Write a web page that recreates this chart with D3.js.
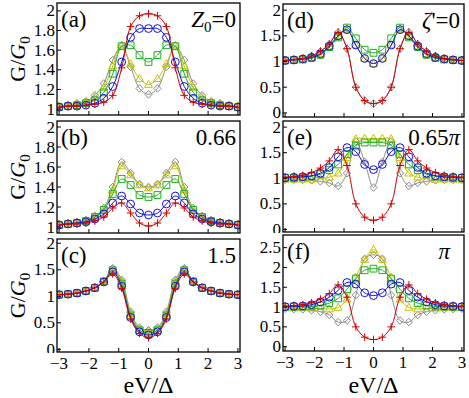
<!DOCTYPE html>
<html>
<head>
<meta charset="utf-8">
<script src="https://cdn.jsdelivr.net/npm/d3@7"></script>
<style>
  body { margin: 0; background: #fff; }
</style>
</head>
<body>
<div id="chart"></div>
<script>
// energy grid of the markers
const xs = [-3, -2.7, -2.4, -2.1, -1.8, -1.5, -1.2, -0.9, -0.6, -0.3, 0, 0.3, 0.6, 0.9, 1.2, 1.5, 1.8, 2.1, 2.4, 2.7, 3];

// (a) Z0 = 0
const a_red    = [1.02, 1.03, 1.03, 1.04, 1.05, 1.07, 1.14, 1.42, 1.84, 1.95, 1.97, 1.95, 1.84, 1.42, 1.14, 1.07, 1.05, 1.04, 1.03, 1.03, 1.02];
const a_blue   = [1.02, 1.03, 1.03, 1.04, 1.06, 1.11, 1.23, 1.48, 1.73, 1.82, 1.82, 1.82, 1.73, 1.48, 1.23, 1.11, 1.06, 1.04, 1.03, 1.03, 1.02];
const a_green  = [1.02, 1.03, 1.04, 1.06, 1.09, 1.17, 1.36, 1.64, 1.65, 1.55, 1.48, 1.55, 1.65, 1.64, 1.36, 1.17, 1.09, 1.06, 1.04, 1.03, 1.02];
const a_yellow = [1.03, 1.04, 1.05, 1.07, 1.12, 1.22, 1.44, 1.65, 1.46, 1.31, 1.25, 1.31, 1.46, 1.65, 1.44, 1.22, 1.12, 1.07, 1.05, 1.04, 1.03];
const a_gray   = [1.03, 1.04, 1.06, 1.08, 1.14, 1.26, 1.50, 1.64, 1.43, 1.21, 1.15, 1.21, 1.43, 1.64, 1.50, 1.26, 1.14, 1.08, 1.06, 1.04, 1.03];

// (b) Z0 = 0.66
const b_red    = [1.02, 1.03, 1.03, 1.04, 1.06, 1.10, 1.19, 1.24, 1.14, 1.04, 1.01, 1.04, 1.14, 1.24, 1.19, 1.10, 1.06, 1.04, 1.03, 1.03, 1.02];
const b_blue   = [1.02, 1.03, 1.04, 1.05, 1.08, 1.13, 1.24, 1.31, 1.23, 1.14, 1.12, 1.14, 1.23, 1.31, 1.24, 1.13, 1.08, 1.05, 1.04, 1.03, 1.02];
const b_green  = [1.02, 1.03, 1.04, 1.06, 1.10, 1.17, 1.33, 1.48, 1.42, 1.32, 1.30, 1.32, 1.42, 1.48, 1.33, 1.17, 1.10, 1.06, 1.04, 1.03, 1.02];
const b_yellow = [1.02, 1.03, 1.04, 1.06, 1.10, 1.17, 1.37, 1.61, 1.52, 1.42, 1.39, 1.42, 1.52, 1.61, 1.37, 1.17, 1.10, 1.06, 1.04, 1.03, 1.02];
const b_gray   = [1.03, 1.04, 1.05, 1.07, 1.11, 1.19, 1.40, 1.65, 1.54, 1.43, 1.40, 1.43, 1.54, 1.65, 1.40, 1.19, 1.11, 1.07, 1.05, 1.04, 1.03];

// (c) Z0 = 1.5
const c_red    = [1.03, 1.04, 1.06, 1.10, 1.16, 1.27, 1.42, 1.15, 0.57, 0.30, 0.22, 0.30, 0.57, 1.15, 1.42, 1.27, 1.16, 1.10, 1.06, 1.04, 1.03];
const c_blue   = [1.03, 1.04, 1.06, 1.10, 1.16, 1.27, 1.46, 1.19, 0.60, 0.33, 0.27, 0.33, 0.60, 1.19, 1.46, 1.27, 1.16, 1.10, 1.06, 1.04, 1.03];
const c_green  = [1.03, 1.04, 1.06, 1.10, 1.16, 1.28, 1.49, 1.24, 0.64, 0.36, 0.31, 0.36, 0.64, 1.24, 1.49, 1.28, 1.16, 1.10, 1.06, 1.04, 1.03];
const c_yellow = [1.03, 1.04, 1.06, 1.10, 1.16, 1.28, 1.51, 1.28, 0.68, 0.39, 0.34, 0.39, 0.68, 1.28, 1.51, 1.28, 1.16, 1.10, 1.06, 1.04, 1.03];
const c_gray   = [1.03, 1.04, 1.06, 1.10, 1.16, 1.28, 1.53, 1.31, 0.71, 0.41, 0.36, 0.41, 0.71, 1.31, 1.53, 1.28, 1.16, 1.10, 1.06, 1.04, 1.03];

// (d) zeta' = 0
const d_red    = [1.02, 1.04, 1.06, 1.11, 1.20, 1.34, 1.57, 1.25, 0.50, 0.24, 0.18, 0.24, 0.50, 1.25, 1.57, 1.34, 1.20, 1.11, 1.06, 1.04, 1.02];
const d_blue   = [1.02, 1.03, 1.05, 1.08, 1.15, 1.30, 1.50, 1.62, 1.32, 1.06, 0.96, 1.06, 1.32, 1.62, 1.50, 1.30, 1.15, 1.08, 1.05, 1.03, 1.02];
const d_green  = [1.02, 1.03, 1.04, 1.07, 1.13, 1.28, 1.47, 1.66, 1.45, 1.23, 1.17, 1.23, 1.45, 1.66, 1.47, 1.28, 1.13, 1.07, 1.04, 1.03, 1.02];
const d_yellow = [1.02, 1.03, 1.05, 1.08, 1.15, 1.30, 1.50, 1.62, 1.32, 1.06, 0.96, 1.06, 1.32, 1.62, 1.50, 1.30, 1.15, 1.08, 1.05, 1.03, 1.02];
const d_gray   = [1.02, 1.04, 1.06, 1.11, 1.20, 1.34, 1.57, 1.25, 0.50, 0.24, 0.18, 0.24, 0.50, 1.25, 1.57, 1.34, 1.20, 1.11, 1.06, 1.04, 1.02];

// (e) zeta' = 0.65 pi
const e_red    = [1.02, 1.04, 1.06, 1.11, 1.20, 1.34, 1.56, 1.25, 0.50, 0.24, 0.18, 0.24, 0.50, 1.25, 1.56, 1.34, 1.20, 1.11, 1.06, 1.04, 1.02];
const e_blue   = [1.01, 1.02, 1.03, 1.05, 1.10, 1.21, 1.42, 1.60, 1.52, 1.27, 1.17, 1.27, 1.52, 1.60, 1.42, 1.21, 1.10, 1.05, 1.03, 1.02, 1.01];
const e_green  = [1.01, 1.01, 1.02, 1.04, 1.08, 1.16, 1.27, 1.47, 1.64, 1.70, 1.70, 1.70, 1.64, 1.47, 1.27, 1.16, 1.08, 1.04, 1.02, 1.01, 1.01];
const e_yellow = [0.98, 0.98, 0.98, 0.98, 0.99, 1.02, 1.10, 1.40, 1.77, 1.78, 1.78, 1.78, 1.77, 1.40, 1.10, 1.02, 0.99, 0.98, 0.98, 0.98, 0.98];
const e_gray   = [0.97, 0.97, 0.97, 0.96, 0.94, 0.91, 0.85, 1.10, 1.72, 1.32, 0.82, 1.32, 1.72, 1.10, 0.85, 0.91, 0.94, 0.96, 0.97, 0.97, 0.97];

// (f) zeta' = pi
const f_red    = [1.02, 1.04, 1.06, 1.11, 1.20, 1.34, 1.56, 1.25, 0.50, 0.24, 0.18, 0.24, 0.50, 1.25, 1.56, 1.34, 1.20, 1.11, 1.06, 1.04, 1.02];
const f_blue   = [1.01, 1.02, 1.03, 1.06, 1.13, 1.25, 1.42, 1.62, 1.58, 1.36, 1.29, 1.36, 1.58, 1.62, 1.42, 1.25, 1.13, 1.06, 1.03, 1.02, 1.01];
const f_green  = [1.00, 1.01, 1.01, 1.02, 1.04, 1.10, 1.22, 1.45, 1.72, 1.93, 1.97, 1.93, 1.72, 1.45, 1.22, 1.10, 1.04, 1.02, 1.01, 1.01, 1.00];
const f_yellow = [0.99, 0.98, 0.98, 0.97, 0.96, 0.95, 0.99, 1.20, 1.75, 2.20, 2.45, 2.20, 1.75, 1.20, 0.99, 0.95, 0.96, 0.97, 0.98, 0.98, 0.99];
const f_gray   = [0.96, 0.95, 0.94, 0.92, 0.88, 0.80, 0.62, 0.66, 1.30, 2.22, 2.32, 2.22, 1.30, 0.66, 0.62, 0.80, 0.88, 0.92, 0.94, 0.95, 0.96];

// ticks
const xTicks = [-3, -2, -1, 0, 1, 2, 3];
const yTicksAB = [1, 1.2, 1.4, 1.6, 1.8, 2];
const yTicksCDE = [0, 0.5, 1, 1.5, 2];
const yTicksF = [0, 0.5, 1, 1.5, 2, 2.5];

const W = 469, H = 398;
const FONT = "'Liberation Serif', 'Times New Roman', Times, 'DejaVu Serif', serif";

const svg = d3.select("#chart").append("svg")
    .attr("width", W)
    .attr("height", H)
    .attr("font-family", FONT);

// series style, drawn back to front
const styles = [
    {key: "gray",   color: "#8a8a8a", shape: "diamond"},
    {key: "yellow", color: "#c4c400", shape: "triangle"},
    {key: "green",  color: "#1fb01f", shape: "square"},
    {key: "blue",   color: "#1010e0", shape: "circle"},
    {key: "red",    color: "#d00000", shape: "plus"}
];

function shapePath(shape)
{
    if (shape == "plus") return "M-3.8,0H3.8M0,-3.8V3.8";
    if (shape == "square") return "M-3.4,-3.4H3.4V3.4H-3.4Z";
    if (shape == "triangle") return "M0,-4.2L4,2.8H-4Z";
    if (shape == "diamond") return "M0,-3.8L3.6,0L0,3.8L-3.6,0Z";
    return "M3.9,0A3.9,3.9 0 1,1 -3.9,0A3.9,3.9 0 1,1 3.9,0Z";
}

const panels = [
    {id: "a", x0: 57, x1: 240, y0: 3, y1: 115, dom: [0.94, 2.08], ticks: yTicksAB, label: "(a)", note: "z0",
        data: {red: a_red, blue: a_blue, green: a_green, yellow: a_yellow, gray: a_gray}},
    {id: "b", x0: 57, x1: 240, y0: 121, y1: 233, dom: [0.94, 2.06], ticks: yTicksAB, label: "(b)", note: "0.66",
        data: {red: b_red, blue: b_blue, green: b_green, yellow: b_yellow, gray: b_gray}},
    {id: "c", x0: 57, x1: 240, y0: 239, y1: 352, dom: [-0.05, 2.08], ticks: yTicksCDE, label: "(c)", note: "1.5", xlab: true,
        data: {red: c_red, blue: c_blue, green: c_green, yellow: c_yellow, gray: c_gray}},
    {id: "d", x0: 283, x1: 464, y0: 4, y1: 117, dom: [-0.08, 2.12], ticks: yTicksCDE, label: "(d)", note: "zeta",
        data: {red: d_red, blue: d_blue, green: d_green, yellow: d_yellow, gray: d_gray}},
    {id: "e", x0: 283, x1: 464, y0: 121, y1: 232, dom: [-0.05, 2.12], ticks: yTicksCDE, label: "(e)", note: "0.65pi",
        data: {red: e_red, blue: e_blue, green: e_green, yellow: e_yellow, gray: e_gray}},
    {id: "f", x0: 283, x1: 464, y0: 235, y1: 351, dom: [-0.11, 2.82], ticks: yTicksF, label: "(f)", note: "pi", xlab: true,
        data: {red: f_red, blue: f_blue, green: f_green, yellow: f_yellow, gray: f_gray}}
];

panels.forEach(p =>
{
    let xScale = d3.scaleLinear().domain([-3.07, 3.07]).range([p.x0, p.x1]);
    let yScale = d3.scaleLinear().domain(p.dom).range([p.y1, p.y0]);

    let g = svg.append("g").attr("id", "panel_" + p.id);

    svg.append("clipPath").attr("id", "clip_" + p.id)
        .append("rect")
        .attr("x", p.x0).attr("y", p.y0)
        .attr("width", p.x1 - p.x0).attr("height", p.y1 - p.y0);

    // tick labels are cut at the panel's own band, as in the figure
    svg.append("clipPath").attr("id", "lclip_" + p.id)
        .append("rect")
        .attr("x", 0).attr("y", p.y0 - 1)
        .attr("width", p.x0).attr("height", p.y1 - p.y0 + 2);

    //Curves and markers
    let plot = g.append("g").attr("clip-path", "url(#clip_" + p.id + ")");
    let line = d3.line()
        .x(d => xScale(d[0]))
        .y(d => yScale(d[1]))
        .curve(d3.curveCatmullRom.alpha(0.5));

    styles.forEach(s =>
    {
        let pts = xs.map((x, i) => [x, p.data[s.key][i]]);
        plot.append("path")
            .datum(pts)
            .attr("d", line)
            .attr("fill", "none")
            .attr("stroke", s.color)
            .attr("stroke-width", 1);
        plot.selectAll(null)
            .data(pts)
            .enter()
            .append("path")
            .attr("d", shapePath(s.shape))
            .attr("transform", d => "translate(" + xScale(d[0]) + "," + yScale(d[1]) + ")")
            .attr("fill", "none")
            .attr("stroke", s.color)
            .attr("stroke-width", 1);
    });

    //Frame
    g.append("rect")
        .attr("x", p.x0).attr("y", p.y0)
        .attr("width", p.x1 - p.x0).attr("height", p.y1 - p.y0)
        .attr("fill", "none")
        .attr("stroke", "#000")
        .attr("stroke-width", 1.3);

    //x ticks, pointing inward
    xTicks.forEach(t =>
    {
        g.append("line")
            .attr("x1", xScale(t)).attr("x2", xScale(t))
            .attr("y1", p.y1).attr("y2", p.y1 - 4)
            .attr("stroke", "#000");
        if (p.xlab)
        {
            g.append("text")
                .attr("x", xScale(t))
                .attr("y", p.y1 + 17)
                .attr("text-anchor", "middle")
                .attr("font-size", 17)
                .text(t < 0 ? "\u2212" + Math.abs(t) : t);
        }
    });

    //y ticks
    let labs = g.append("g").attr("clip-path", "url(#lclip_" + p.id + ")");
    p.ticks.forEach(t =>
    {
        g.append("line")
            .attr("x1", p.x0).attr("x2", p.x0 + 4)
            .attr("y1", yScale(t)).attr("y2", yScale(t))
            .attr("stroke", "#000");
        labs.append("text")
            .attr("x", p.x0 - 2)
            .attr("y", yScale(t) + 5.5)
            .attr("text-anchor", "end")
            .attr("font-size", 17)
            .text(d3.format("")(t));
    });

    //Panel letter
    g.append("text")
        .attr("x", p.x0 + 4)
        .attr("y", p.y0 + 24)
        .attr("font-size", 23)
        .text(p.label);

    //Parameter value
    let note = g.append("text")
        .attr("x", p.x1 - 4)
        .attr("y", p.y0 + 24)
        .attr("text-anchor", "end")
        .attr("font-size", 23);
    if (p.note == "z0")
    {
        note.append("tspan").attr("font-style", "italic").text("Z");
        note.append("tspan").attr("font-size", 15).attr("dy", 5).text("0");
        note.append("tspan").attr("dy", -5).text("=0");
    }
    else if (p.note == "zeta")
    {
        note.append("tspan").attr("font-style", "italic").text("\u03b6");
        note.append("tspan").text("'=0");
    }
    else if (p.note == "0.65pi")
    {
        note.append("tspan").text("0.65");
        note.append("tspan").attr("font-style", "italic").text("\u03c0");
    }
    else if (p.note == "pi")
    {
        note.attr("x", p.x1 - 14);
        note.append("tspan").attr("font-style", "italic").text("\u03c0");
    }
    else
    {
        note.text(p.note);
    }

    //y label on the left column
    if (p.x0 < 100)
    {
        let yl = svg.append("text")
            .attr("transform", "translate(25," + ((p.y0 + p.y1) / 2) + ") rotate(-90)")
            .attr("text-anchor", "middle")
            .attr("font-size", 22);
        yl.append("tspan").text("G/");
        yl.append("tspan").attr("font-style", "italic").text("G");
        yl.append("tspan").attr("font-size", 15).attr("dy", 5).text("0");
    }

    //x label under the bottom row
    if (p.xlab)
    {
        svg.append("text")
            .attr("x", (p.x0 + p.x1) / 2)
            .attr("y", 393)
            .attr("text-anchor", "middle")
            .attr("font-size", 24)
            .text("eV/\u0394");
    }
});
</script>
</body>
</html>
